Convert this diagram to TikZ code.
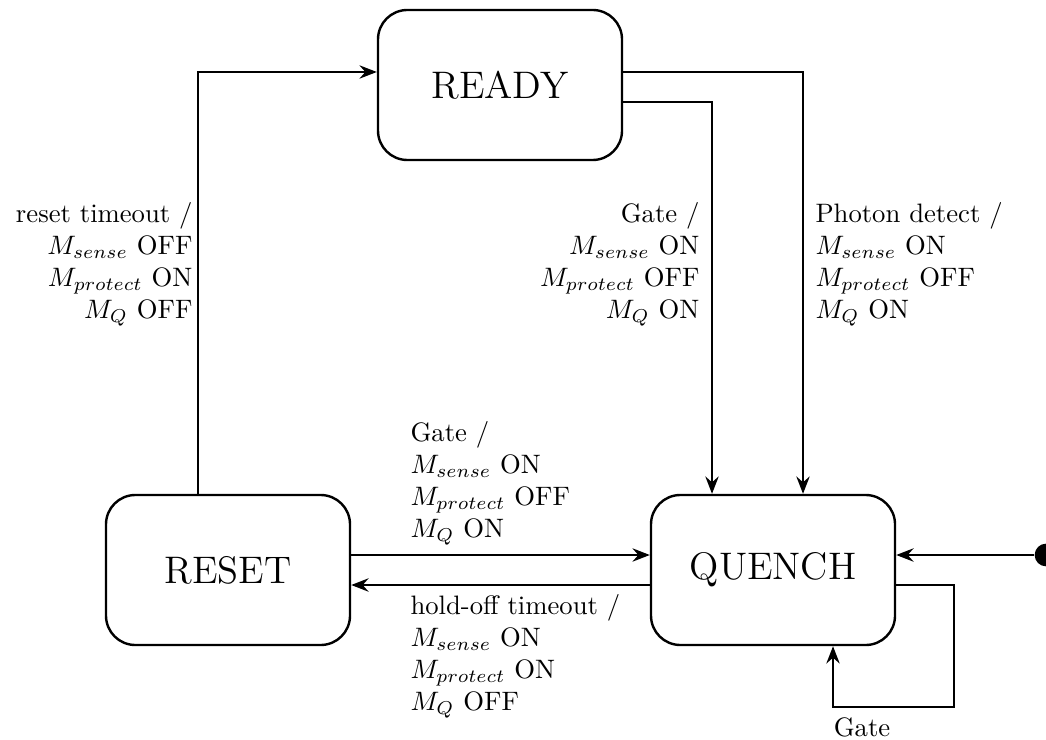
\documentclass[tikz,border=0pt]{standalone}
\usetikzlibrary{arrows.meta,calc}

\tikzset{
  state/.style={draw, line width=0.9pt, rounded corners=11pt, minimum width=91.5pt,
    minimum height=56.25pt, inner sep=0pt, font=\Large},
  arr/.style={line width=0.9pt, -{Stealth[length=6.5pt,width=5pt,inset=2.2pt]}},
  lbl/.style={inner sep=0pt},
}

\begin{document}
\begin{tikzpicture}[x=0.375pt, y=-0.375pt]
  \useasboundingbox (0,0) rectangle (1046,740);

  % states
  \node[state] (ready)  at (500,85)  {READY};
  \node[state] (reset)  at (228,570) {RESET};
  \node[state] (quench) at (773,570) {QUENCH};

  % entry point
  \node[circle, fill, inner sep=0pt, minimum size=8.5pt] (init) at (1046,555) {};
  \draw[arr] (init) -- ($(quench.east)+(0,-15)$);

  % RESET -> READY
  \draw[arr] ($(reset.north)+(-30,0)$) |- ($(ready.west)+(0,-13)$);
  \node[lbl, anchor=east, align=right] (lresetto) at (193,264)
    {reset timeout /\\ $M_{sense}$ OFF\\ $M_{protect}$ ON\\ $M_Q$ OFF};

  % READY -> QUENCH (gate)
  \draw[arr] ($(ready.east)+(0,17)$) -| ($(quench.north)+(-61,0)$);
  \node[lbl, anchor=east, align=right] (lgate1) at (700,264)
    {Gate /\\ $M_{sense}$ ON\\ $M_{protect}$ OFF\\ $M_Q$ ON};

  % READY -> QUENCH (photon)
  \draw[arr] ($(ready.east)+(0,-13)$) -| ($(quench.north)+(30,0)$);
  \node[lbl, anchor=west, align=left] (lphoton) at (815,264)
    {Photon detect /\\ $M_{sense}$ ON\\ $M_{protect}$ OFF\\ $M_Q$ ON};

  % RESET -> QUENCH
  \draw[arr] ($(reset.east)+(0,-15)$) -- ($(quench.west)+(0,-15)$);
  \node[lbl, anchor=west, align=left] (lgate2) at (410,483)
    {Gate /\\ $M_{sense}$ ON\\ $M_{protect}$ OFF\\ $M_Q$ ON};

  % QUENCH -> RESET
  \draw[arr] ($(quench.west)+(0,15)$) -- ($(reset.east)+(0,15)$);
  \node[lbl, anchor=west, align=left] (lhold) at (410,656)
    {hold-off timeout /\\ $M_{sense}$ ON\\ $M_{protect}$ ON\\ $M_Q$ OFF};

  % QUENCH self loop
  \coordinate (loopc) at (954,707);
  \draw[arr] ($(quench.east)+(0,15)$) -| (loopc) -| ($(quench.south)+(60,0)$);
  \node[lbl] (lgate3) at (862,727) {Gate};
\end{tikzpicture}
\end{document}
